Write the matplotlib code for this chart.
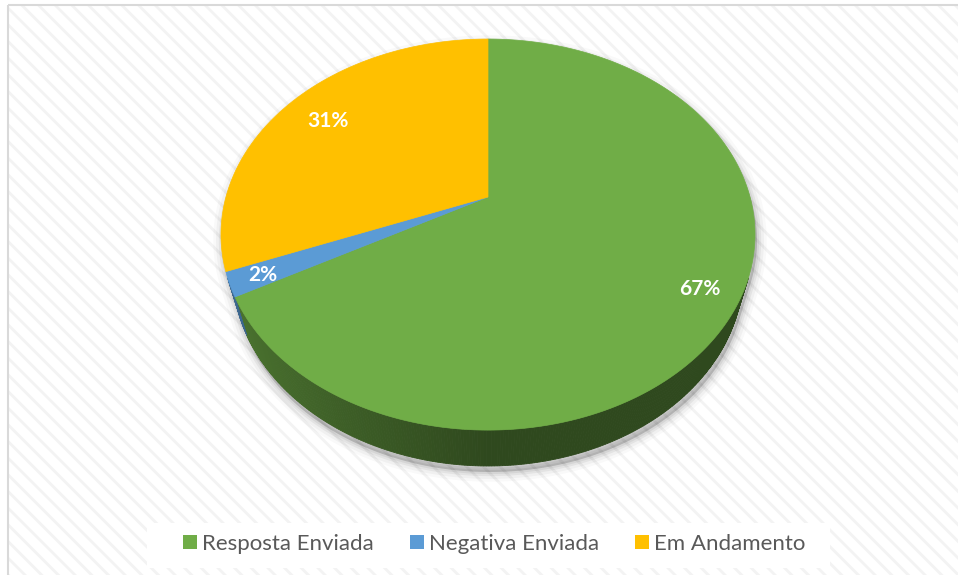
import numpy as np
import matplotlib
matplotlib.use('Agg')
import matplotlib.pyplot as plt
from matplotlib.patches import Polygon, Rectangle, Patch

# ---- data ----
categories = ['Resposta Enviada', 'Negativa Enviada', 'Em Andamento']
values = [67, 2, 31]
pct_labels = ['67%', '2%', '31%']
colors = ['#70AD47', '#5B9BD5', '#FFC000']

# layout: relative radius at which each data label sits
label_radius = [0.86, 0.88, 0.80]

W, H = 958, 575
plt.rcParams['hatch.linewidth'] = 2.0
fig = plt.figure(figsize=(W / 100, H / 100), dpi=100)
ax = fig.add_axes([0, 0, 1, 1])
ax.set_xlim(0, W)
ax.set_ylim(H, 0)
ax.axis('off')

# ---- background with diagonal texture and border ----
ax.add_patch(Rectangle((8, 5), W, H, facecolor='white', edgecolor='#f3f3f3',
                       hatch='\\\\', lw=0, zorder=0))
ax.add_patch(Rectangle((8, 5), W, H, facecolor='none', edgecolor='#d9d9d9',
                       lw=1.5, zorder=1))

# ---- perspective 3D pie geometry ----
cx, cy = 488, 197
f, D = 948.6, 3.62
s, c = 0.7186, 0.6955
h = 0.225


def proj(x, y, z=0.0):
    w = D + y * c - z * s
    up = y * s + z * c
    return cx + f * x / w, cy - f * up / w


def rim(t, z=0.0, r=1.0):
    return proj(r * np.sin(t), r * np.cos(t), z)


fr = np.array(values, dtype=float) / np.sum(values)
edges = np.concatenate([[0.0], np.cumsum(fr)]) * 2 * np.pi

t_a = np.arccos(-1.0 / (D * c))
t_b = 2 * np.pi - t_a

# shadow (soft, cast mostly downward)
tt_top = np.linspace(t_b, 2 * np.pi + t_a, 300)
tt_bot = np.linspace(t_a, t_b, 200)
sil = np.array([rim(t) for t in tt_top] + [rim(t, -h) for t in tt_bot])
for lw, a in [(14, 0.025), (10, 0.035), (6, 0.05), (3, 0.06)]:
    ax.add_patch(Polygon(sil + np.array([2, 6]), closed=True, facecolor=(0, 0, 0, a),
                         edgecolor=(0, 0, 0, a), lw=lw, joinstyle='round', zorder=2))

# side walls
for i, col in enumerate(colors):
    t0, t1 = max(edges[i], t_a), min(edges[i + 1], t_b)
    if t1 <= t0:
        continue
    base = np.array(matplotlib.colors.to_rgb(col))
    ts = np.linspace(t0, t1, max(2, int(np.degrees(t1 - t0) * 2)))
    for ta, tb in zip(ts[:-1], ts[1:]):
        tm = 0.5 * (ta + tb)
        k = 0.42 + 0.27 * max(0.0, -np.sin(tm))
        cc = np.clip(base * k, 0, 1)
        quad = [rim(ta), rim(tb), rim(tb, -h), rim(ta, -h)]
        ax.add_patch(Polygon(quad, closed=True, facecolor=cc, edgecolor=cc,
                             lw=0.6, zorder=3))

# top faces
for i, col in enumerate(colors):
    ts = np.linspace(edges[i], edges[i + 1], max(3, int(np.degrees(edges[i + 1] - edges[i]) * 2)))
    pts = [proj(0, 0)] + [rim(t) for t in ts]
    ax.add_patch(Polygon(pts, closed=True, facecolor=col, edgecolor=col,
                         lw=0.5, zorder=4))

# data labels
for i, lab in enumerate(pct_labels):
    tm = 0.5 * (edges[i] + edges[i + 1])
    x, y = rim(tm, 0, label_radius[i])
    ax.text(x, y + 2, lab, color='white', fontsize=15, fontweight='bold',
            family='Lato', ha='center', va='center', zorder=5)

# ---- legend ----
ax.add_patch(Rectangle((147, 523), 683, 45, facecolor='white', edgecolor='none', zorder=1.5))
handles = [Patch(facecolor=col, edgecolor='none') for col in colors]
fig.legend(handles, categories, loc='center', bbox_to_anchor=(494 / W, 1 - 544 / H),
           ncol=3, frameon=False, prop={'family': 'Lato', 'size': 16},
           handlelength=0.63, handleheight=0.63, handletextpad=0.23,
           columnspacing=1.62, labelcolor='#595959', borderaxespad=0, borderpad=0)

fig.savefig('out.png', dpi=100)
